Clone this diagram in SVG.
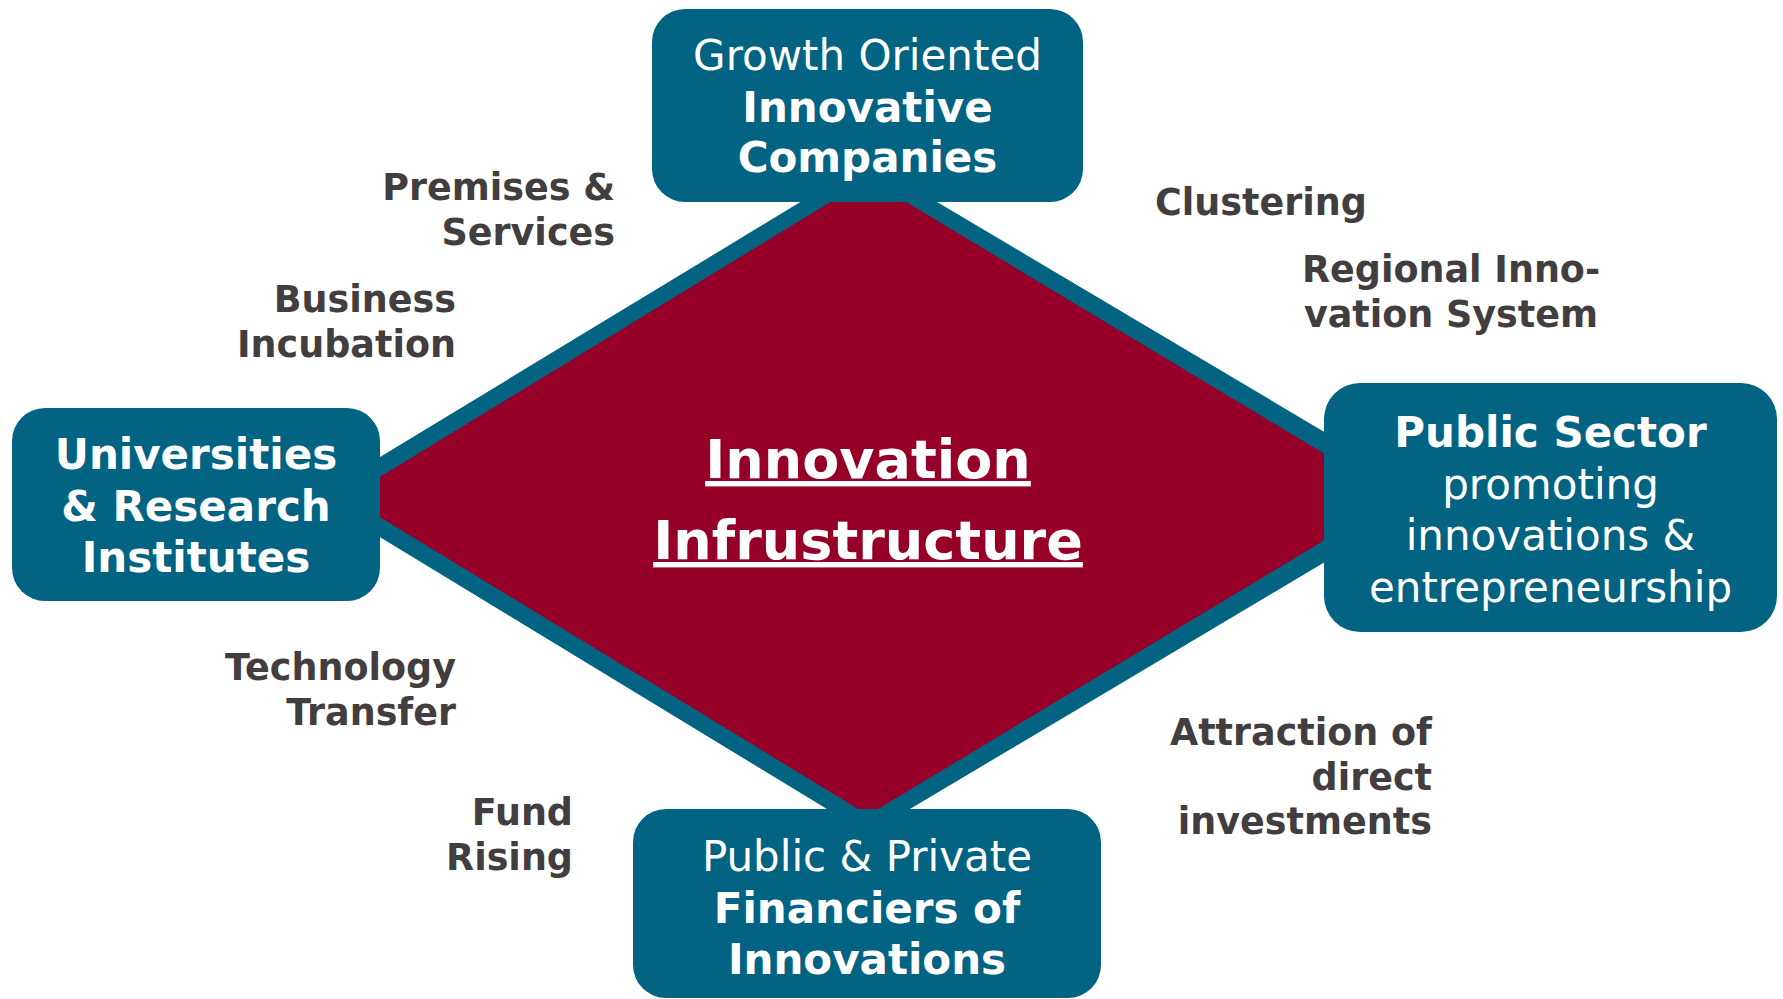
<svg xmlns="http://www.w3.org/2000/svg" width="1783" height="999" viewBox="0 0 1783 999">
<style>
.box{fill:#036382}
.bt{font-family:"DejaVu Sans","Verdana",sans-serif;font-size:42px;fill:#ffffff;text-anchor:middle}
.b{font-weight:bold}
.lbl{font-family:"DejaVu Sans","Verdana",sans-serif;font-size:36.5px;font-weight:bold;fill:#423d3f}
.r{text-anchor:end}
.c{text-anchor:middle}
.title{font-family:"DejaVu Sans","Verdana",sans-serif;font-size:54px;font-weight:bold;fill:#ffffff;text-anchor:middle;text-decoration:underline}
</style>
<rect width="1783" height="999" fill="#ffffff"/>
<g id="connectors">
<polygon points="868,161 1434,497 868,834 314,497" fill="#036382"/>
<polygon points="868,179 1396,497 868,815 347,497" fill="#960028"/>
</g>
<g id="center">
<text class="title" x="868" y="478">Innovation</text>
<text class="title" x="868" y="559">Infrustructure</text>
</g>
<g id="node-top">
<rect class="box" x="652" y="9" width="431" height="193" rx="33"/>
<text class="bt" x="867.5" y="70">Growth Oriented</text>
<text class="bt b" x="867.5" y="122">Innovative</text>
<text class="bt b" x="867.5" y="172">Companies</text>
</g>
<g id="node-left">
<rect class="box" x="12" y="408" width="368" height="193" rx="33"/>
<text class="bt b" x="196" y="469">Universities</text>
<text class="bt b" x="196" y="521">&amp; Research</text>
<text class="bt b" x="196" y="572">Institutes</text>
</g>
<g id="node-right">
<rect class="box" x="1324" y="383" width="453" height="249" rx="36"/>
<text class="bt b" x="1550.5" y="447">Public Sector</text>
<text class="bt" x="1550.5" y="499">promoting</text>
<text class="bt" x="1550.5" y="550">innovations &amp;</text>
<text class="bt" x="1550.5" y="602">entrepreneurship</text>
</g>
<g id="node-bottom">
<rect class="box" x="633" y="809" width="468" height="189" rx="33"/>
<text class="bt" x="867" y="871">Public &amp; Private</text>
<text class="bt b" x="867" y="923">Financiers of</text>
<text class="bt b" x="867" y="974">Innovations</text>
</g>
<g id="labels">
<text class="lbl r" x="615" y="200">Premises &amp;</text>
<text class="lbl r" x="615" y="245">Services</text>
<text class="lbl r" x="456" y="312">Business</text>
<text class="lbl r" x="456" y="357">Incubation</text>
<text class="lbl" x="1155" y="215">Clustering</text>
<text class="lbl c" x="1451" y="282">Regional Inno-</text>
<text class="lbl c" x="1451" y="327">vation System</text>
<text class="lbl r" x="456" y="680">Technology</text>
<text class="lbl r" x="456" y="725">Transfer</text>
<text class="lbl r" x="573" y="825">Fund</text>
<text class="lbl r" x="573" y="870">Rising</text>
<text class="lbl r" x="1432" y="745">Attraction of</text>
<text class="lbl r" x="1432" y="790">direct</text>
<text class="lbl r" x="1432" y="834">investments</text>
</g>
</svg>
